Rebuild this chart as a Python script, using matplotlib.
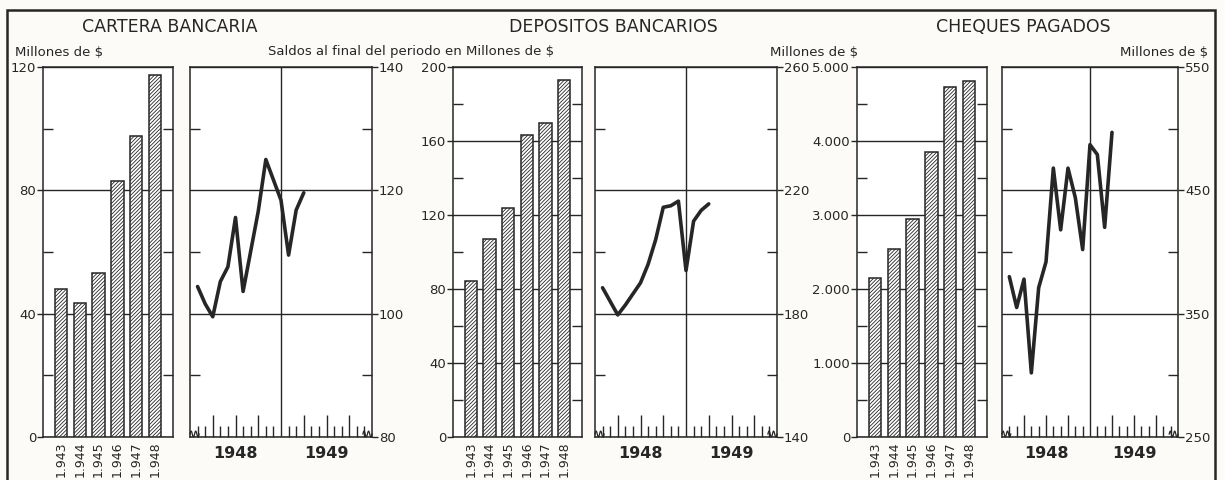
import matplotlib
matplotlib.use('Agg')
import matplotlib.pyplot as plt
import matplotlib.transforms as mtransforms
from matplotlib.patches import Rectangle
import numpy as np

# ---------------- data ----------------
anios = ['1.943', '1.944', '1.945', '1.946', '1.947', '1.948']
cartera_anual = [47.9, 43.4, 53.1, 83.1, 97.7, 117.4]
depositos_anual = [84.3, 107.2, 124.0, 163.4, 169.6, 192.8]
cheques_anual = [2145, 2541, 2950, 3847, 4726, 4815]

# month-end positions, Jan 1948 (1) .. Mar 1949 (15)
meses = [1, 2, 3, 4, 5, 6, 7, 8, 9, 10, 11, 12, 13, 14, 15]
cartera_mensual = [104.4, 101.6, 99.5, 105.2, 107.6, 115.6, 103.6, 110.1,
                   116.6, 125.0, 121.7, 118.4, 109.5, 116.8, 119.6]
depositos_mensual = [188.4, 184.0, 179.6, 182.8, 186.4, 190.0, 196.0, 204.0,
                     214.5, 215.0, 216.5, 194.0, 210.0, 213.5, 215.6]
cheques_mensual = [380, 355, 378, 302, 371, 392, 468, 418,
                   468, 444, 402, 487, 479, 420, 497]

titulos = ['CARTERA BANCARIA', 'DEPOSITOS BANCARIOS', 'CHEQUES PAGADOS']
etiquetas_anios = ['1948', '1949']

# ---------------- style ----------------
INK = '#262626'
BG = '#fcfbf8'
W, H = 1225, 480
plt.rcParams['font.family'] = ['DejaVu Sans']
plt.rcParams['hatch.linewidth'] = 0.6
plt.rcParams['hatch.color'] = INK

fig = plt.figure(figsize=(W / 100, H / 100), dpi=100)
fig.patch.set_facecolor(BG)


def rect(x0, x1, y0=67, y1=437):
    return [x0 / W, (H - y1) / H, (x1 - x0) / W, (y1 - y0) / H]


def style_spines(ax):
    for s in ax.spines.values():
        s.set_color(INK)
        s.set_linewidth(1.1)
    ax.set_facecolor('white')


def bar_panel(r, values, ymax, major, minor, labels):
    ax = fig.add_axes(r)
    style_spines(ax)
    x = np.arange(len(anios))
    ax.bar(x, values, width=0.65, color='white', edgecolor=INK,
           linewidth=1.1, hatch='/////////', zorder=3)
    ax.set_xlim(-0.95, 5.95)
    ax.set_ylim(0, ymax)
    ax.set_yticks(major)
    ax.set_yticklabels(labels)
    ax.set_yticks(minor, minor=True)
    ax.yaxis.grid(True, which='major', color=INK, lw=1.0)
    ax.set_axisbelow(True)
    ax.tick_params(axis='y', which='major', direction='out', length=4,
                   width=1, left=True, right=False, labelsize=9.5, pad=1,
                   colors=INK)
    ax.tick_params(axis='y', which='minor', direction='in', length=7,
                   width=1, left=True, right=True, color=INK)
    ax.set_xticks(x)
    ax.set_xticklabels(anios, rotation=90, fontsize=9, color=INK)
    ax.tick_params(axis='x', length=0, pad=3)
    return ax


def line_panel(r, values, ylim, major, minor):
    ax = fig.add_axes(r)
    style_spines(ax)
    ax.plot(meses, values, color=INK, lw=2.6, solid_joinstyle='round',
            solid_capstyle='round', zorder=4)
    ax.set_xlim(0, 24)
    ax.set_ylim(*ylim)
    ax.set_yticks(major)
    ax.set_yticks(minor, minor=True)
    ax.yaxis.grid(True, which='major', color=INK, lw=1.0)
    ax.axvline(12, color=INK, lw=1.0)
    ax.tick_params(axis='y', which='major', direction='out', length=4,
                   width=1, left=False, right=True, labelleft=False,
                   labelright=True, labelsize=9.5, pad=1, colors=INK)
    ax.tick_params(axis='y', which='minor', direction='in', length=7,
                   width=1, left=True, right=True, color=INK)
    ax.set_xticks([3, 6, 9, 15, 18, 21])
    ax.set_xticks([m for m in range(1, 24) if m % 3 != 0], minor=True)
    ax.tick_params(axis='x', which='major', direction='in', length=16,
                   width=1, labelbottom=False, color=INK)
    ax.tick_params(axis='x', which='minor', direction='in', length=8,
                   width=1, color=INK)
    tr = mtransforms.blended_transform_factory(ax.transData, ax.transAxes)
    for xpos, lab in zip([6, 18], etiquetas_anios):
        ax.text(xpos, -0.045, lab, transform=tr, ha='center', va='center',
                fontsize=11.5, fontweight='bold', color=INK)
    # axis-break squiggles at both ends of the time axis
    t = np.linspace(0, 1, 40)
    for x0 in (0.0, 0.95):
        ax.plot(x0 + 0.05 * t, 0.008 + 0.008 * np.sin(2 * np.pi * 2 * t),
                transform=ax.transAxes, color=INK, lw=0.9, clip_on=False)
    return ax


bar_panel(rect(43, 173), cartera_anual, 120, [0, 40, 80, 120], [20, 60, 100],
          ['0', '40', '80', '120'])
line_panel(rect(190, 372), cartera_mensual, (80, 140), [80, 100, 120, 140],
           [90, 110, 130])

bar_panel(rect(453, 582), depositos_anual, 200, [0, 40, 80, 120, 160, 200],
          [20, 60, 100, 140, 180],
          ['0', '40', '80', '120', '160', '200'])
line_panel(rect(595, 777), depositos_mensual, (140, 260),
           [140, 180, 220, 260], [160, 200, 240])

bar_panel(rect(857, 987), cheques_anual, 5000,
          [0, 1000, 2000, 3000, 4000, 5000],
          [500, 1500, 2500, 3500, 4500],
          ['0', '1.000', '2.000', '3.000', '4.000', '5.000'])
line_panel(rect(1002, 1178), cheques_mensual, (250, 550),
           [250, 350, 450, 550], [300, 400, 500])

# ---------------- header texts ----------------
for xc, t in zip([170, 613, 1023], titulos):
    fig.text(xc / W, 1 - 27 / H, t, ha='center', va='center', fontsize=12.5,
             color=INK)
fig.text(15 / W, 1 - 52 / H, 'Millones de $', ha='left', va='center',
         fontsize=9.5, color=INK)
fig.text(411 / W, 1 - 52 / H, 'Saldos al final del periodo en Millones de $',
         ha='center', va='center', fontsize=9.5, color=INK)
fig.text(770 / W, 1 - 52 / H, 'Millones de $', ha='left', va='center',
         fontsize=9.5, color=INK)
fig.text(1208 / W, 1 - 52 / H, 'Millones de $', ha='right', va='center',
         fontsize=9.5, color=INK)

# outer frame
fig.patches.append(Rectangle((7 / W, -0.1), (1215 - 7) / W, 1.1 - 10 / H,
                             transform=fig.transFigure, fill=False,
                             edgecolor=INK, linewidth=1.8, clip_on=False))

fig.savefig('out.png', dpi=100, facecolor=BG)
